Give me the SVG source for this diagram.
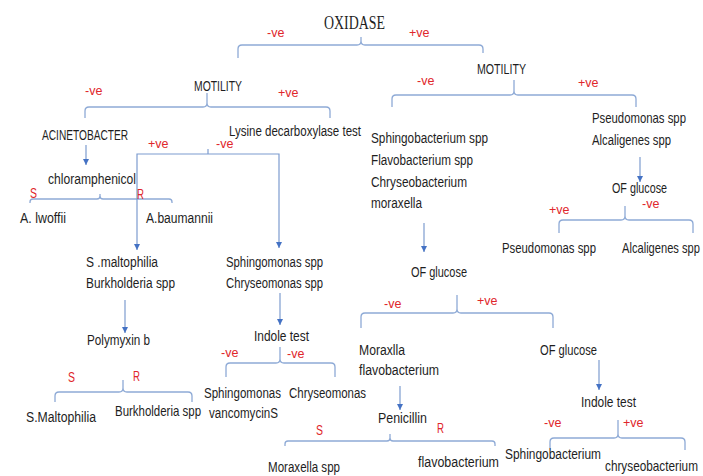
<svg xmlns="http://www.w3.org/2000/svg" width="703" height="476" viewBox="0 0 703 476">
<defs>
<style>
.t{font-family:"Liberation Sans",Arial,sans-serif;font-size:14px;fill:#1e1e1e}
.h{font-family:"Liberation Serif","Times New Roman",serif;font-size:19px;fill:#1e1e1e}
.r{font-family:"Liberation Sans",Arial,sans-serif;font-size:12.5px;fill:#e0262b}
.sr{font-family:"Liberation Sans",Arial,sans-serif;font-size:14px;fill:#e0262b}
.b{fill:none;stroke:#8eaad6;stroke-width:1.3}
.a{fill:none;stroke:#7d9ccf;stroke-width:1.2}
</style>
<marker id="ah" markerUnits="userSpaceOnUse" markerWidth="8" markerHeight="8" refX="6" refY="3" orient="auto">
<path d="M0,0 L6,3 L0,6 Z" fill="#4472c4"/>
</marker>
</defs>
<rect width="703" height="476" fill="#fff"/>

<g id="connectors">
<path class="b" d="M238,58 V49 Q238,45 242,45 H357 Q361,45 361,41 V37 M361,41 Q361,45 365,45 H479 Q483,45 483,49 V53"/>
<path class="b" d="M85,118 V111 Q85,107 89,107 H203 Q207,107 207,103 V93 M207,103 Q207,107 211,107 H326 Q330,107 330,111 V118"/>
<path class="b" d="M392,107 V99 Q392,95 396,95 H510 Q514,95 514,91 V80 M514,91 Q514,95 518,95 H632 Q636,95 636,99 V107"/>
<path class="b" d="M30,203 V202 Q30,199 33,199 H97 Q100,199 100,196 V194 M100,196 Q100,199 103,199 H169 Q172,199 172,202 V203"/>
<path class="b" d="M55,402 V396 Q55,392 59,392 H119 Q123,392 123,388 V380 M123,388 Q123,392 127,392 H188 Q192,392 192,396 V402"/>
<path class="b" d="M226,377 V367 Q226,363 230,363 H276 Q280,363 280,359 V347 M280,359 Q280,363 284,363 H331 Q335,363 335,367 V377"/>
<path class="b" d="M559,233 V224 Q559,220 563,220 H621 Q625,220 625,216 V206 M625,216 Q625,220 629,220 H689 Q693,220 693,224 V233"/>
<path class="b" d="M361,328 V317 Q361,313 365,313 H453 Q457,313 457,309 V295 M457,309 Q457,313 461,313 H549 Q553,313 553,317 V328"/>
<path class="b" d="M550,448 V442 Q550,438 554,438 H614 Q618,438 618,434 V420 M618,434 Q618,438 622,438 H681 Q685,438 685,442 V450"/>
<path class="b" d="M285,446 V444 Q285,441 288,441 H387 Q390,441 390,438 V434 M390,438 Q390,441 393,441 H492 Q495,441 495,444 V446"/>
<path class="a" d="M208,149 V154"/>
<path class="a" d="M208,154 H137 V250" marker-end="url(#ah)"/>
<path class="a" d="M208,154 H279 V248" marker-end="url(#ah)"/>
<path class="a" d="M86,145 V165" marker-end="url(#ah)"/>
<path class="a" d="M125,300 V333" marker-end="url(#ah)"/>
<path class="a" d="M280,293 V325" marker-end="url(#ah)"/>
<path class="a" d="M640,157 V182" marker-end="url(#ah)"/>
<path class="a" d="M424,223 V252" marker-end="url(#ah)"/>
<path class="a" d="M599,360 V390" marker-end="url(#ah)"/>
<path class="a" d="M400,386 V410" marker-end="url(#ah)"/>
</g>

<g id="labels">
<text class="r" x="267" y="37">-ve</text>
<text class="r" x="409" y="37">+ve</text>
<text class="r" x="85" y="95">-ve</text>
<text class="r" x="278" y="97">+ve</text>
<text class="r" x="417" y="85">-ve</text>
<text class="r" x="578" y="87">+ve</text>
<text class="r" x="148" y="148">+ve</text>
<text class="r" x="216" y="148">-ve</text>
<text class="sr" x="30" y="198" textLength="7" lengthAdjust="spacingAndGlyphs">S</text>
<text class="sr" x="137" y="199" textLength="7" lengthAdjust="spacingAndGlyphs">R</text>
<text class="sr" x="68" y="382" textLength="7" lengthAdjust="spacingAndGlyphs">S</text>
<text class="sr" x="133" y="381" textLength="7" lengthAdjust="spacingAndGlyphs">R</text>
<text class="r" x="221" y="357">-ve</text>
<text class="r" x="287" y="358">-ve</text>
<text class="r" x="549" y="214">+ve</text>
<text class="r" x="642" y="208">-ve</text>
<text class="r" x="384" y="308">-ve</text>
<text class="r" x="477" y="305">+ve</text>
<text class="r" x="544" y="427">-ve</text>
<text class="r" x="623" y="427">+ve</text>
<text class="sr" x="316" y="435" textLength="7" lengthAdjust="spacingAndGlyphs">S</text>
<text class="sr" x="437" y="433" textLength="7" lengthAdjust="spacingAndGlyphs">R</text>
</g>

<g id="oxidase"><text class="h" x="324" y="29" textLength="61" lengthAdjust="spacingAndGlyphs">OXIDASE</text></g>
<g id="motility-left"><text class="t" x="194" y="91" textLength="48" lengthAdjust="spacingAndGlyphs">MOTILITY</text></g>
<g id="motility-right"><text class="t" x="477" y="74" textLength="49" lengthAdjust="spacingAndGlyphs">MOTILITY</text></g>
<g id="acinetobacter"><text class="t" transform="translate(42,140) scale(0.7,1)" x="0" y="0" textLength="122.9" lengthAdjust="spacingAndGlyphs">ACINETOBACTER</text></g>
<g id="lysine"><text class="t" x="229" y="136" textLength="132" lengthAdjust="spacingAndGlyphs">Lysine decarboxylase test</text></g>
<g id="chloramphenicol"><text class="t" x="48" y="184" textLength="88" lengthAdjust="spacingAndGlyphs">chloramphenicol</text></g>
<g id="a-lwoffii"><text class="t" x="20" y="223" textLength="46" lengthAdjust="spacingAndGlyphs">A. lwoffii</text></g>
<g id="a-baumannii"><text class="t" x="146" y="223" textLength="67" lengthAdjust="spacingAndGlyphs">A.baumannii</text></g>
<g id="smalto-burk">
<text class="t" x="86" y="267" textLength="72" lengthAdjust="spacingAndGlyphs">S .maltophilia</text>
<text class="t" x="86" y="288" textLength="89" lengthAdjust="spacingAndGlyphs">Burkholderia spp</text>
</g>
<g id="polymyxin"><text class="t" x="87" y="345" textLength="63" lengthAdjust="spacingAndGlyphs">Polymyxin b</text></g>
<g id="s-maltophilia"><text class="t" x="26" y="422" textLength="70" lengthAdjust="spacingAndGlyphs">S.Maltophilia</text></g>
<g id="burkholderia"><text class="t" transform="translate(115,416) scale(0.81,1)" x="0" y="0" textLength="106.2" lengthAdjust="spacingAndGlyphs">Burkholderia spp</text></g>
<g id="sphingo-chryseo-spp">
<text class="t" x="226" y="267" textLength="97" lengthAdjust="spacingAndGlyphs">Sphingomonas spp</text>
<text class="t" x="226" y="288" textLength="97" lengthAdjust="spacingAndGlyphs">Chryseomonas spp</text>
</g>
<g id="indole-left"><text class="t" x="254" y="341" textLength="55" lengthAdjust="spacingAndGlyphs">Indole test</text></g>
<g id="sphingomonas">
<text class="t" x="204" y="398" textLength="77" lengthAdjust="spacingAndGlyphs">Sphingomonas</text>
<text class="t" x="209" y="418" textLength="69" lengthAdjust="spacingAndGlyphs">vancomycinS</text>
</g>
<g id="chryseomonas"><text class="t" x="289" y="398" textLength="77" lengthAdjust="spacingAndGlyphs">Chryseomonas</text></g>
<g id="nonmotile-group">
<text class="t" x="371" y="143" textLength="117" lengthAdjust="spacingAndGlyphs">Sphingobacterium spp</text>
<text class="t" x="371" y="165" textLength="102" lengthAdjust="spacingAndGlyphs">Flavobacterium spp</text>
<text class="t" x="371" y="187" textLength="96" lengthAdjust="spacingAndGlyphs">Chryseobacterium</text>
<text class="t" x="371" y="208" textLength="51" lengthAdjust="spacingAndGlyphs">moraxella</text>
</g>
<g id="pseudo-alcal">
<text class="t" transform="translate(592,123) scale(0.8,1)" x="0" y="0" textLength="117.5" lengthAdjust="spacingAndGlyphs">Pseudomonas spp</text>
<text class="t" x="592" y="145" textLength="79" lengthAdjust="spacingAndGlyphs">Alcaligenes spp</text>
</g>
<g id="of-glucose-right"><text class="t" x="612" y="193" textLength="55" lengthAdjust="spacingAndGlyphs">OF glucose</text></g>
<g id="pseudomonas"><text class="t" x="502" y="253" textLength="94" lengthAdjust="spacingAndGlyphs">Pseudomonas spp</text></g>
<g id="alcaligenes"><text class="t" transform="translate(622,253) scale(0.79,1)" x="0" y="0" textLength="98.7" lengthAdjust="spacingAndGlyphs">Alcaligenes spp</text></g>
<g id="of-glucose-mid"><text class="t" x="411" y="277" textLength="56" lengthAdjust="spacingAndGlyphs">OF glucose</text></g>
<g id="moraxlla-flavo">
<text class="t" x="359" y="355" textLength="46" lengthAdjust="spacingAndGlyphs">Moraxlla</text>
<text class="t" x="359" y="375" textLength="80" lengthAdjust="spacingAndGlyphs">flavobacterium</text>
</g>
<g id="of-glucose-low"><text class="t" x="540" y="355" textLength="57" lengthAdjust="spacingAndGlyphs">OF glucose</text></g>
<g id="indole-right"><text class="t" x="581" y="407" textLength="55" lengthAdjust="spacingAndGlyphs">Indole test</text></g>
<g id="sphingobacterium"><text class="t" x="505" y="459" textLength="96" lengthAdjust="spacingAndGlyphs">Sphingobacterium</text></g>
<g id="chryseobacterium"><text class="t" transform="translate(605,471) scale(0.85,1)" x="0" y="0" textLength="109.4" lengthAdjust="spacingAndGlyphs">chryseobacterium</text></g>
<g id="penicillin"><text class="t" x="378" y="423" textLength="49" lengthAdjust="spacingAndGlyphs">Penicillin</text></g>
<g id="moraxella-spp"><text class="t" x="268" y="472" textLength="72" lengthAdjust="spacingAndGlyphs">Moraxella spp</text></g>
<g id="flavobacterium"><text class="t" x="418" y="467" textLength="81" lengthAdjust="spacingAndGlyphs">flavobacterium</text></g>
</svg>
